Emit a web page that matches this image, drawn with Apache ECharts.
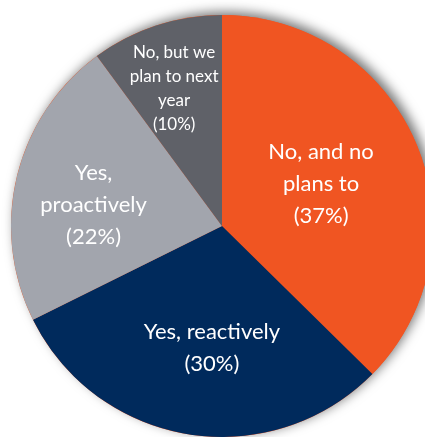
<!DOCTYPE html>
<html>
<head>
<meta charset="utf-8">
<script src="https://cdn.jsdelivr.net/npm/echarts@6/dist/echarts.min.js"></script>
<style>
  html, body { margin: 0; padding: 0; background: #ffffff; }
  #chart { width: 425px; height: 437px; }
</style>
</head>
<body>
<div id="chart"></div>
<script>
// Survey answers, clockwise from 12 o'clock
const categories = [
  'No, and no\nplans to',
  'Yes, reactively',
  'Yes,\nproactively',
  'No, but we\nplan to next\nyear'
];
const shares = [37, 30, 22, 10];
const sliceColors = ['#F05522', '#002A5C', '#A2A5AD', '#5F6168'];

// Label nudges (px) from the default mid-slice spot
const labelNudge = [[-1, 0], [7, 15], [-23, 4], [-14, -34]];
const labelSize = [22, 22, 22, 17];
const labelLineHeight = [32, 32, 32, 24];

const total = shares.reduce((a, b) => a + b, 0);
const pieCenter = [222, 226];
const pieRadius = 211;

const chart = echarts.init(document.getElementById('chart'), null, { renderer: 'canvas' });

chart.setOption({
  animation: false,
  backgroundColor: '#ffffff',
  series: [
    {
      // Backdrop disc that casts the soft drop shadow
      type: 'pie',
      silent: true,
      center: pieCenter,
      radius: pieRadius,
      label: { show: false },
      labelLine: { show: false },
      itemStyle: {
        color: '#F05522',
        shadowBlur: 12,
        shadowOffsetX: 4,
        shadowOffsetY: -3,
        shadowColor: 'rgba(0,0,0,0.55)'
      },
      data: [{ value: total, name: '' }]
    },
    {
      type: 'pie',
      center: pieCenter,
      radius: pieRadius,
      startAngle: 90,
      clockwise: true,
      avoidLabelOverlap: false,
      labelLine: { show: false },
      labelLayout: function (p) {
        const n = labelNudge[p.dataIndex];
        return { dx: n[0], dy: n[1] };
      },
      data: categories.map((name, i) => ({
        name: name,
        value: shares[i],
        itemStyle: { color: sliceColors[i], borderWidth: 0 },
        label: {
          show: true,
          position: 'inside',
          formatter: '{b}\n({c}%)',
          color: '#ffffff',
          fontFamily: 'Lato',
          fontSize: labelSize[i],
          lineHeight: labelLineHeight[i],
          align: 'center'
        }
      }))
    }
  ]
});
</script>
</body>
</html>
